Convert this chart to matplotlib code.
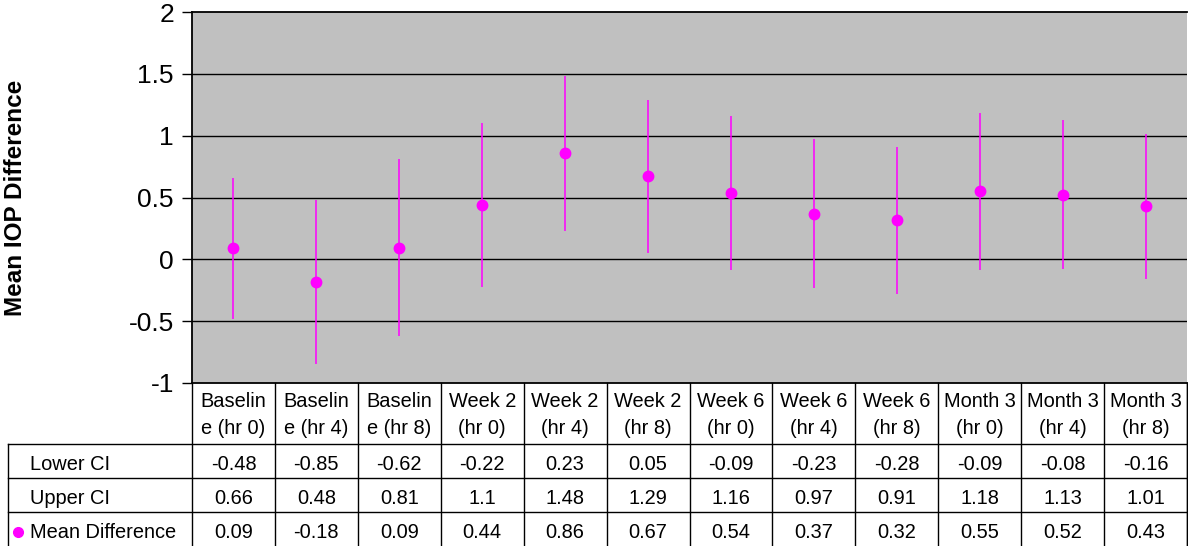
import matplotlib.pyplot as plt
import numpy as np

plt.rcParams['font.family'] = ['Liberation Sans', 'DejaVu Sans']

# data
categories = ["Baselin\ne (hr 0)", "Baselin\ne (hr 4)", "Baselin\ne (hr 8)",
              "Week 2\n(hr 0)", "Week 2\n(hr 4)", "Week 2\n(hr 8)",
              "Week 6\n(hr 0)", "Week 6\n(hr 4)", "Week 6\n(hr 8)",
              "Month 3\n(hr 0)", "Month 3\n(hr 4)", "Month 3\n(hr 8)"]
lower_ci = [-0.48, -0.85, -0.62, -0.22, 0.23, 0.05, -0.09, -0.23, -0.28, -0.09, -0.08, -0.16]
upper_ci = [0.66, 0.48, 0.81, 1.1, 1.48, 1.29, 1.16, 0.97, 0.91, 1.18, 1.13, 1.01]
mean_diff = [0.09, -0.18, 0.09, 0.44, 0.86, 0.67, 0.54, 0.37, 0.32, 0.55, 0.52, 0.43]
row_labels = ["Lower CI", "Upper CI", "Mean Difference"]
yticks = [-1, -0.5, 0, 0.5, 1, 1.5, 2]

W, H = 1188, 546
MAG = '#ff00ff'
fig = plt.figure(figsize=(W / 100, H / 100), dpi=100)

# plot area in pixels
L, R, T, B = 192, 1187, 12, 383
ax = fig.add_axes([L / W, 1 - B / H, (R - L) / W, (B - T) / H])
ax.set_facecolor('#c0c0c0')

x = np.arange(len(categories))
lo = np.array(lower_ci)
up = np.array(upper_ci)
mu = np.array(mean_diff)

ax.vlines(x, lo, up, color=MAG, lw=1.1, zorder=3)
ax.plot(x, mu, 'o', color=MAG, ms=7.5, mec=MAG, zorder=4)

ax.set_xlim(-0.5, len(categories) - 0.5)
ax.set_ylim(-1, 2)
ax.set_yticks(yticks)
ax.set_yticklabels([f"{v:g}" for v in yticks], fontsize=19)
ax.set_xticks([])
for v in yticks[1:-1]:
    ax.axhline(v, color='black', lw=1, zorder=1)
ax.tick_params(axis='y', direction='out', length=7, width=1, pad=6)
for s in ['top', 'left', 'bottom']:
    ax.spines[s].set_linewidth(1.3)
ax.spines['right'].set_visible(False)
ax.set_ylabel("Mean IOP Difference", fontsize=17.5, fontweight='bold')
ax.yaxis.set_label_coords(-165 / (R - L), 0.5)

# data table under the plot, drawn in pixel coordinates
tab = fig.add_axes([0, 0, 1, 1])
tab.set_xlim(0, W)
tab.set_ylim(H, 0)
tab.axis('off')

n = len(categories)
cw = (R - L) / n
xs = [L + i * cw for i in range(n + 1)]
head_bot = 444
rows_y = [444, 478, 512, 546]
left_col = 8
lw = 1.0
fs = 14.4

for xv in xs:
    tab.plot([xv, xv], [B, rows_y[-1]], color='black', lw=lw)
tab.plot([left_col, left_col], [head_bot, rows_y[-1]], color='black', lw=lw)
for yv in rows_y[:-1]:
    tab.plot([left_col, R], [yv, yv], color='black', lw=lw)
tab.plot([R, R], [B, rows_y[-1]], color='black', lw=lw)

# header: two lines per category, placed by baseline
for i, c in enumerate(categories):
    for k, part in enumerate(c.split("\n")):
        tab.text(xs[i] + cw / 2, 407 + 27 * k, part, ha='center', va='baseline',
                 fontsize=fs)

table_vals = [lower_ci, upper_ci, mean_diff]
for r, (lab, vals) in enumerate(zip(row_labels, table_vals)):
    yb = rows_y[r + 1] - 8
    tab.text(30, yb, lab, ha='left', va='baseline', fontsize=fs)
    for i, v in enumerate(vals):
        tab.text(xs[i] + cw / 2, yb, f"{v:g}", ha='center', va='baseline', fontsize=fs)

# legend key next to the mean row label
tab.plot([18], [532], 'o', color=MAG, ms=7)

fig.savefig('out.png', dpi=100)
